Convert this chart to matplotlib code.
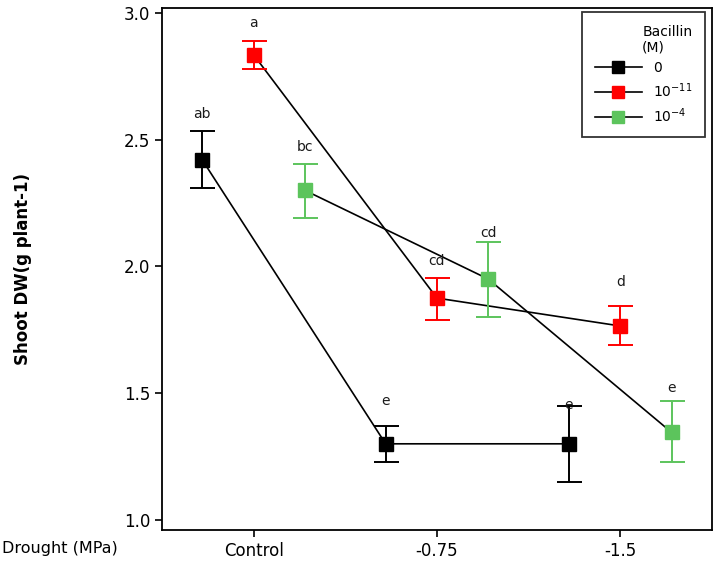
import matplotlib
matplotlib.use("Agg")
import matplotlib.pyplot as plt
from matplotlib.lines import Line2D
import numpy as np

# data
drought = ["Control", "-0.75", "-1.5"]
series_names = ["0", "10$^{-11}$", "10$^{-4}$"]

black_mean = [2.42, 1.30, 1.30]
black_low = [2.31, 1.23, 1.15]
black_high = [2.535, 1.37, 1.45]

red_mean = [2.835, 1.875, 1.765]
red_low = [2.78, 1.79, 1.69]
red_high = [2.89, 1.955, 1.845]

green_mean = [2.30, 1.95, 1.345]
green_low = [2.19, 1.80, 1.23]
green_high = [2.405, 2.095, 1.47]

# significance letters and the height they sit at
black_letters = ["ab", "e", "e"]
black_letter_y = [2.60, 1.47, 1.455]
red_letters = ["a", "cd", "d"]
red_letter_y = [2.96, 2.02, 1.94]
green_letters = ["bc", "cd", "e"]
green_letter_y = [2.47, 2.13, 1.52]

colors = ["black", "#ff0000", "#5cc45c"]
dodge = [-0.28, 0.0, 0.28]

fig = plt.figure(figsize=(7.18, 5.67), dpi=100)
ax = fig.add_axes([0.2256, 0.0653, 0.766, 0.9207])

x = np.arange(len(drought))
groups = [
    (black_mean, black_low, black_high, black_letters, black_letter_y),
    (red_mean, red_low, red_high, red_letters, red_letter_y),
    (green_mean, green_low, green_high, green_letters, green_letter_y),
]

for (mean, low, high, letters, ly), col, dx in zip(groups, colors, dodge):
    mean = np.array(mean)
    yerr = [mean - np.array(low), np.array(high) - mean]
    xs = x + dx
    ax.plot(xs, mean, color="black", lw=1.2, zorder=2)
    ax.errorbar(xs, mean, yerr=yerr, fmt="none", ecolor=col, elinewidth=1.4,
                capsize=9, capthick=1.4, zorder=3)
    ax.plot(xs, mean, ls="none", marker="s", ms=10, color=col, zorder=4)
    for xi, t, yy in zip(xs, letters, ly):
        ax.text(xi, yy, t, ha="center", va="center", fontsize=10, color="#1a1a1a")

ax.set_xlim(-0.5, 2.5)
ax.set_ylim(0.96, 3.02)
ax.set_xticks(x)
ax.set_xticklabels(drought, fontsize=12)
ax.set_yticks([1.0, 1.5, 2.0, 2.5, 3.0])
ax.set_yticklabels(["1.0", "1.5", "2.0", "2.5", "3.0"], fontsize=12)
ax.tick_params(direction="out", length=5, width=1.2, colors="black")
for s in ax.spines.values():
    s.set_linewidth(1.3)

ax.set_ylabel("Shoot DW(g plant-1)", fontsize=12, fontweight="bold", labelpad=66)
fig.text(0.003, 0.032, "Drought (MPa)", fontsize=11.5, ha="left", va="center")

handles = [Line2D([], [], color="black", lw=1.2, marker="s", ms=9,
                  markerfacecolor=c, markeredgecolor=c) for c in colors]
leg = ax.legend(handles, series_names, title="Bacillin\n(M)", loc="upper right",
                bbox_to_anchor=(0.987, 0.992), borderaxespad=0, fontsize=10,
                title_fontsize=10, frameon=True, fancybox=False, edgecolor="black",
                handlelength=3.4, alignment="right", borderpad=0.9, labelspacing=0.45)
leg.get_frame().set_linewidth(1.3)

fig.savefig("out.png", dpi=100)
